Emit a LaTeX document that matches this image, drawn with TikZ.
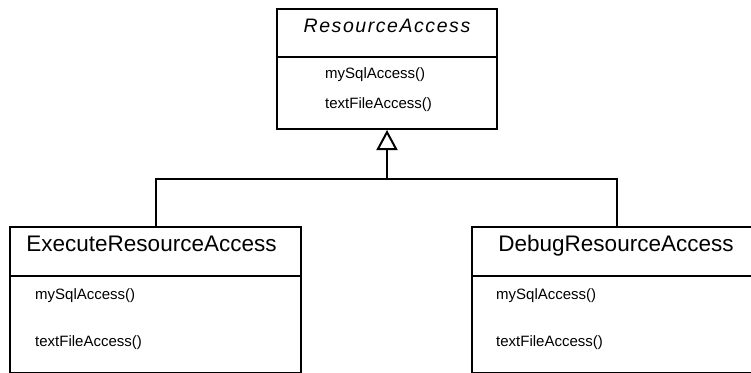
\documentclass[tikz,border=0pt]{standalone}
\usepackage{fontspec}
\setmainfont{Liberation Sans}
\usetikzlibrary{arrows.meta}

\begin{document}
\begin{tikzpicture}[x=1pt, y=-1pt,
  classbox/.style={draw, line width=2pt, rectangle, inner sep=0pt},
  divider/.style={line width=2pt},
  connector/.style={line width=2pt},
  inherits/.style={connector, -{Triangle[open, width=21pt, length=20pt, line width=2pt]}},
  abstracttitle/.style={inner sep=0pt, anchor=base, font=\fontsize{19.5}{19.5}\selectfont\itshape\addfontfeature{LetterSpace=8}},
  classtitle/.style={inner sep=0pt, anchor=base, font=\fontsize{22.5}{22.5}\selectfont},
  method/.style={inner sep=0pt, anchor=base west, font=\fontsize{15}{15}\selectfont},
]
\useasboundingbox (0,0) rectangle (751,372);
\clip (0,0) rectangle (751,372);

% abstract base class
\node[classbox, minimum width=220pt, minimum height=120pt] (base) at (387,69) {};
\draw[divider] (277,57) -- (497,57);
\node[abstracttitle] (baseTitle) at (387,32.7) {ResourceAccess};
\node[method] (baseM1) at (325,78.5) {mySqlAccess()};
\node[method] (baseM2) at (325,108) {textFileAccess()};

% concrete subclasses
\node[classbox, minimum width=291pt, minimum height=145.5pt] (exec) at (155.5,299.75) {};
\draw[divider] (10,276) -- (301,276);
\node[classtitle] (execTitle) at (151.5,251) {ExecuteResourceAccess};
\node[method] (execM1) at (35,299) {mySqlAccess()};
\node[method] (execM2) at (35,346) {textFileAccess()};

\node[classbox, minimum width=290pt, minimum height=145.5pt] (debug) at (617,299.75) {};
\draw[divider] (472,276) -- (762,276);
\node[classtitle] (debugTitle) at (616,251) {DebugResourceAccess};
\node[method] (debugM1) at (496,299) {mySqlAccess()};
\node[method] (debugM2) at (496,346) {textFileAccess()};

% generalization
\coordinate (join) at (387,179);
\draw[connector] (exec.north) |- (join) -| (debug.north);
\draw[inherits] (join) -- (base.south);
\end{tikzpicture}
\end{document}
